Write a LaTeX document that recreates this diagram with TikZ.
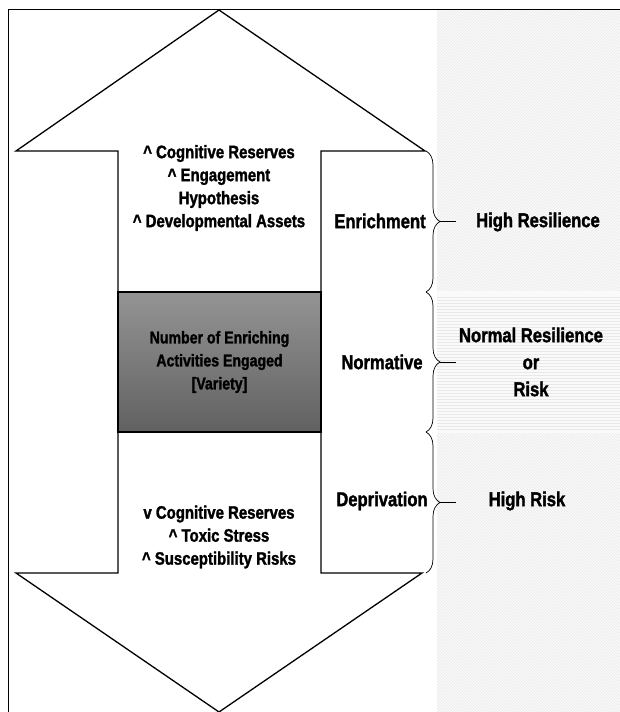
\documentclass[tikz,border=0pt]{standalone}
\usepackage{fontspec}
\setmainfont{Liberation Sans Bold}[FakeStretch=0.83,FakeBold=1.6]
\usetikzlibrary{patterns,decorations.pathreplacing}

\begin{document}
\begin{tikzpicture}[x=1pt,y=-1pt,
        outline/.style={draw=black,line width=1.3pt,line join=miter},
        inner/.style={font=\fontsize{18}{23}\selectfont,align=center},
        level/.style={font=\fontsize{20}{27}\selectfont,align=center},
        hatch/.style={pattern color=black!9},
        curly/.style={decorate,decoration={brace,amplitude=14pt},line width=0.7pt}]
    \useasboundingbox (0,0) rectangle (620,712);
    % light panels behind the outcomes
    \fill[black!2] (437,10) rectangle (620,712);
    \fill[hatch,pattern=north east lines] (437,10) rectangle (620,290);
    \fill[hatch,pattern=horizontal lines] (437,295) rectangle (620,429);
    \fill[hatch,pattern=north west lines] (437,433) rectangle (620,712);
    % frame
    \draw[line width=1pt] (8,712) -- (8,9) -- (620,9);
    % double arrow
    \draw[outline,fill=white] (118,292) -- (118,151) -- (16,151) -- (219,10) -- (425,151) -- (321,151) -- (321,292);
    \draw[outline,fill=white] (118,432) -- (118,573) -- (16,573) -- (219,712) -- (422,573) -- (321,573) -- (321,432);
    \node[outline,top color=black!42,bottom color=black!62,minimum width=203pt,minimum height=140pt] (core) at (219.5,362) {};
    \node[inner] (upText) at (219,188) {\textasciicircum{} Cognitive Reserves\\\textasciicircum{} Engagement\\Hypothesis\\\textasciicircum{} Developmental Assets};
    \node[inner,font=\fontsize{17}{23}\selectfont] (coreText) at (219.5,362) {Number of Enriching\\Activities Engaged\\{[Variety]}};
    \node[inner] (downText) at (219,537) {v Cognitive Reserves\\\textasciicircum{} Toxic Stress\\\textasciicircum{} Susceptibility Risks};
    % levels
    \node[level] (enrich) at (380,221) {Enrichment};
    \node[level] (norm) at (382,362) {Normative};
    \node[level] (depriv) at (382,501) {Deprivation};
    % braces
    \coordinate (enrA) at (426,151);
    \coordinate (enrB) at (426,292);
    \coordinate (normA) at (426,292);
    \coordinate (normB) at (426,432);
    \coordinate (depA) at (426,432);
    \coordinate (depB) at (426,573);
    \draw[curly] (enrA) -- (enrB);
    \draw[curly] (normA) -- (normB);
    \draw[curly] (depA) -- (depB);
    \coordinate (enrTip) at (440,221.5);
    \coordinate (enrEnd) at (456,221.5);
    \coordinate (normTip) at (440,362);
    \coordinate (normEnd) at (456,362);
    \coordinate (depTip) at (440,502.5);
    \coordinate (depEnd) at (456,502.5);
    \draw[line width=0.7pt] (enrTip) -- (enrEnd);
    \draw[line width=0.7pt] (normTip) -- (normEnd);
    \draw[line width=0.7pt] (depTip) -- (depEnd);
    % outcomes
    \node[level] (highRes) at (538,222) {High Resilience};
    \node[level] (normRes) at (531,362) {Normal Resilience\\or\\Risk};
    \node[level] (highRisk) at (527,501) {High Risk};
\end{tikzpicture}
\end{document}
